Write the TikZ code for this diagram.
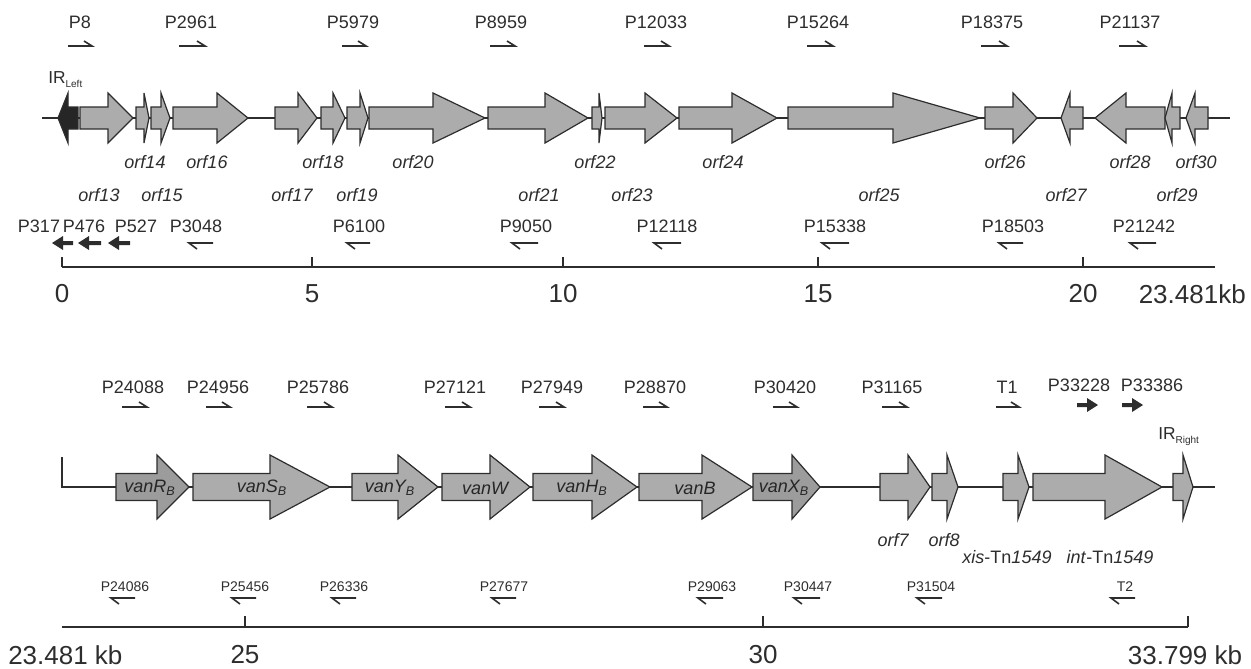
\documentclass[tikz,border=0pt]{standalone}
\usepackage{fontspec}
\setmainfont{Liberation Sans}
\definecolor{genefill}{RGB}{172,172,172}
\definecolor{genedark}{RGB}{156,156,156}
\definecolor{txt}{RGB}{45,45,45}
\definecolor{ln}{RGB}{45,45,45}
\newcommand{\genearrow}[4][genefill]{%
  \filldraw[gene,fill=#1] (#2,\gy-\gb) -- (#3,\gy-\gb) -- (#3,\gy-\gh) -- (#4,\gy) -- (#3,\gy+\gh) -- (#3,\gy+\gb) -- (#2,\gy+\gb) -- cycle;}
\begin{document}
\begin{tikzpicture}[x=0.75pt,y=-0.75pt,
  gene/.style={draw=ln,line width=0.9pt,line join=miter},
  primer/.style={draw=ln,line width=1.2pt},
  plab/.style={font=\fontsize{13.5}{14}\selectfont,text=txt,inner sep=0pt},
  slab/.style={font=\fontsize{10.5}{11}\selectfont,text=txt,inner sep=0pt},
  olab/.style={font=\fontsize{13.5}{14}\selectfont\itshape,text=txt,inner sep=0pt},
  vlab/.style={font=\fontsize{13.5}{14}\selectfont\itshape,text=black!85,inner sep=0pt},
  scl/.style={font=\fontsize{19.5}{20}\selectfont,text=txt,inner sep=0pt},
  irlab/.style={font=\fontsize{13}{14}\selectfont,text=txt,inner sep=0pt}]
\useasboundingbox (0,0) rectangle (1251,668);

% ================= TOP PANEL =================
% forward primers
\foreach \n/\lx/\ax/\bx in {P8/80/68/92, P2961/191/179/205, P5979/353/342/366, P8959/501/490/515,
  P12033/656/644/669, P15264/818/807/833, P18375/992/981/1007, P21137/1130/1119/1145}{
  \node[plab] (f\n) at (\lx,22) {\n};
  \draw[primer] (\ax,46) -- (\bx,46) -- ++(-8,-5);
}
% baseline
\draw[ln,line width=1.1pt] (42,118) -- (1230,118);
\def\gy{118}\def\gb{11}\def\gh{25}
% IR left (black)
\filldraw[gene,fill=black!85] (78,\gy-\gb) -- (68,\gy-\gb) -- (68,\gy-\gh) -- (58,\gy) -- (68,\gy+\gh) -- (68,\gy+\gb) -- (78,\gy+\gb) -- cycle;
\node[irlab,anchor=west] (irl) at (48,80) {IR{\fontsize{7.5}{8}\selectfont\raisebox{-3pt}{Left}}};
\genearrow{80}{108}{133}
\genearrow{136}{144}{149}
\genearrow{151}{161}{170}
\genearrow{173}{217}{248}
\genearrow{275}{298}{317}
\genearrow{321}{333}{345}
\genearrow{347}{360}{368}
\genearrow{369}{433}{485}
\genearrow{488}{545}{588}
\genearrow{592}{599}{602}
\genearrow{605}{645}{677}
\genearrow{679}{732}{777}
\genearrow{788}{893}{980}
\genearrow{985}{1013}{1037}
\genearrow{1083}{1070}{1061}
\genearrow{1165}{1126}{1095}
\genearrow{1180}{1172}{1165}
\genearrow{1208}{1195}{1186}
% gene labels
\foreach \n/\lx in {14/145, 16/207, 18/323, 20/413, 22/595, 24/723, 26/1005, 28/1130, 30/1196}{
  \node[olab] (o\n) at (\lx,162) {orf\n};
}
\foreach \n/\lx in {13/99, 15/162, 17/292, 19/357, 21/539, 23/632, 25/879, 27/1066, 29/1177}{
  \node[olab] (o\n) at (\lx,195) {orf\n};
}
% reverse primers
\foreach \n/\lx in {P317/39, P476/84, P527/136}{
  \node[plab] (r\n) at (\lx,226) {\n};
}
\foreach \ax/\bx in {52/73, 78/101, 108/130}{
  \fill[ln] (\bx,241) -- (\ax+11,241) -- (\ax+11,236) -- (\ax,243) -- (\ax+11,250) -- (\ax+11,245) -- (\bx,245) -- cycle;
}
\foreach \n/\lx/\ax/\bx in {P3048/196/189/213, P6100/359/347/370, P9050/526/512/538, P12118/667/654/681,
  P15338/835/822/849, P18503/1013/999/1023, P21242/1144/1130/1156}{
  \node[plab] (r\n) at (\lx,226) {\n};
  \draw[primer] (\bx,243) -- (\ax,243) -- ++(8,6);
}
% scale
\draw[ln,line width=1.1pt] (62,267) -- (1215,267);
\foreach \tx/\tl in {62/0, 312/5, 563/10, 818/15, 1083/20}{
  \draw[ln,line width=1.1pt] (\tx,267) -- (\tx,257);
  \node[scl] (s\tl) at (\tx,294) {\tl};
}
\node[scl,anchor=east] (send) at (1246,294) {23.481kb};

% ================= BOTTOM PANEL =================
\foreach \n/\lx/\ax/\bx in {P24088/133/122/147, P24956/218/206/230, P25786/318/307/332, P27121/455/445/470,
  P27949/552/539/564, P28870/655/643/667, P30420/785/773/797, P31165/892/882/907, T1/1007/996/1019}{
  \node[plab] (g\n) at (\lx,387) {\n};
  \draw[primer] (\ax,407) -- (\bx,407) -- ++(-8,-5);
}
\foreach \n/\lx/\ax/\bx in {P33228/1079/1077/1098, P33386/1152/1122/1143}{
  \node[plab] (g\n) at (\lx,385) {\n};
  \fill[ln] (\ax,403) -- (\bx-11,403) -- (\bx-11,398) -- (\bx,405) -- (\bx-11,412) -- (\bx-11,407) -- (\ax,407) -- cycle;
}
% baseline with left bracket
\draw[ln,line width=2pt] (62,457) -- (62,487) -- (1215,487);
\def\gy{487}\def\gb{13.5}\def\gh{32}
\genearrow[genedark]{116}{157}{189}
\genearrow{193}{270}{330}
\genearrow{352}{398}{438}
\genearrow{442}{490}{530}
\genearrow{533}{592}{637}
\genearrow{639}{702}{752}
\genearrow[genedark]{753}{792}{820}
\genearrow{880}{908}{930}
\genearrow{932}{947}{958}
\genearrow{1003}{1018}{1029}
\genearrow{1033}{1105}{1162}
\genearrow{1173}{1183}{1193}
\node[vlab] (vR) at (150,488) {van\textit{R}\textsubscript{B}};
\node[vlab] (vS) at (262,488) {van\textit{S}\textsubscript{B}};
\node[vlab] (vY) at (390,488) {van\textit{Y}\textsubscript{B}};
\node[vlab] (vW) at (485,488) {vanW};
\node[vlab] (vH) at (582,488) {van\textit{H}\textsubscript{B}};
\node[vlab] (vB) at (695,488) {vanB};
\node[vlab] (vX) at (784,488) {van\textit{X}\textsubscript{B}};
\node[irlab,anchor=west] (irr) at (1158,437) {IR{\fontsize{7.5}{8}\selectfont\raisebox{-3pt}{Right}}};
\node[olab] (o7) at (893,540) {orf7};
\node[olab] (o8) at (944,540) {orf8};
\node[plab] (xis) at (1007,557) {\textit{xis}-Tn\textit{1549}};
\node[plab] (int) at (1110,557) {\textit{int}-Tn\textit{1549}};
% reverse primers
\foreach \n/\lx/\ax/\bx in {P24086/125/111/135, P25456/245/232/256, P26336/344/332/356, P27677/504/492/516,
  P29063/712/698/723, P30447/808/794/820, P31504/931/917/942, T2/1125/1111/1135}{
  \node[slab] (h\n) at (\lx,587) {\n};
  \draw[primer] (\bx,598) -- (\ax,598) -- ++(8,6);
}
% scale
\draw[ln,line width=1.1pt] (62,627) -- (1188,627);
\foreach \tx/\tl in {245/25, 763/30}{
  \draw[ln,line width=1.1pt] (\tx,627) -- (\tx,616);
  \node[scl] (t\tl) at (\tx,655) {\tl};
}
\draw[ln,line width=1.1pt] (1188,627) -- (1188,616);
\node[scl,anchor=west] (tstart) at (8,655) {23.481 kb};
\node[scl] (tend) at (1185,655) {33.799 kb};
\end{tikzpicture}
\end{document}
